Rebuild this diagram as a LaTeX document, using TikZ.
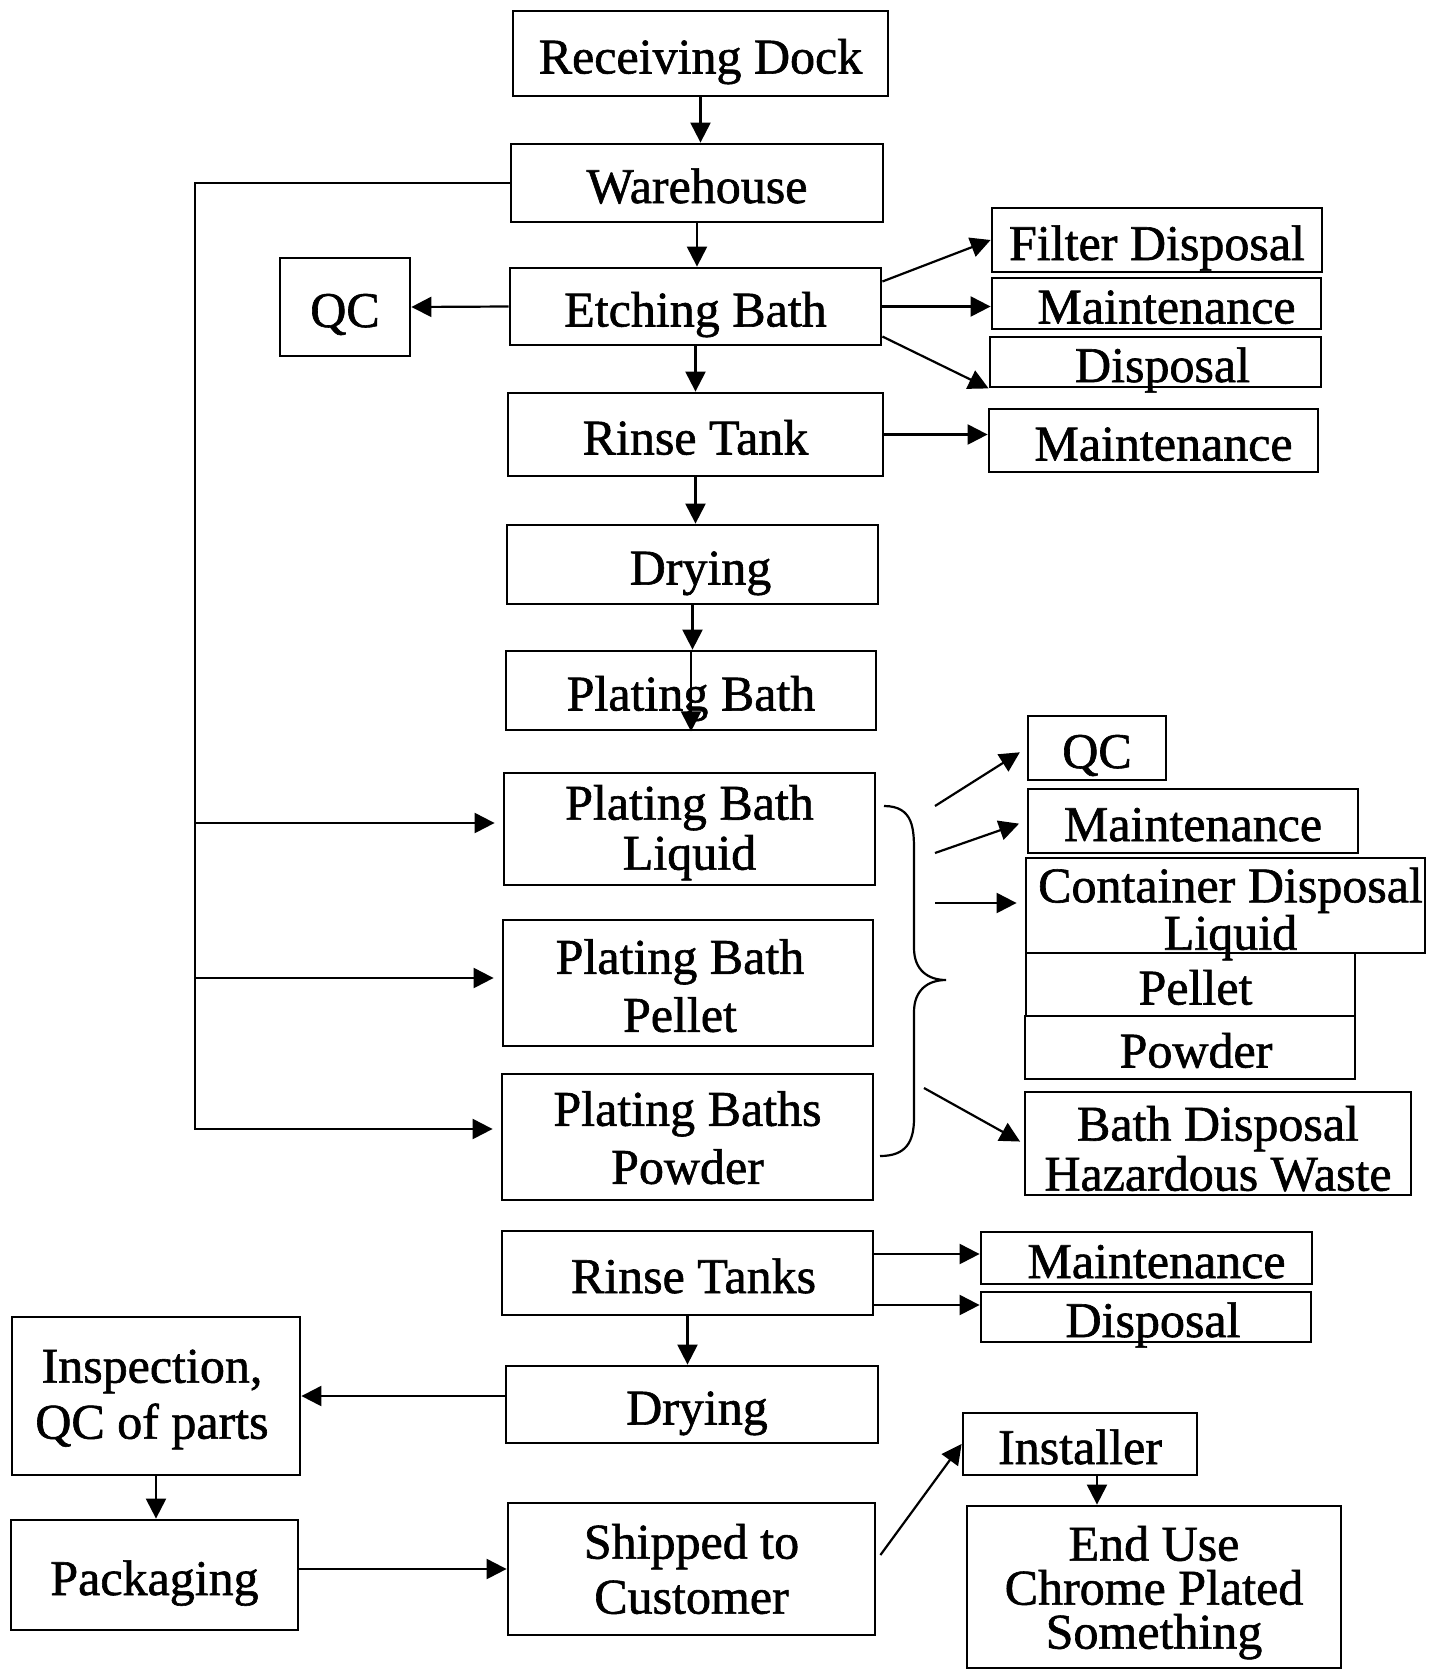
\documentclass[tikz,border=0pt]{standalone}
\usepackage{fontspec}
\setmainfont{Liberation Serif}[FakeBold=1.2]
\usetikzlibrary{arrows.meta,calc}
% invisible strut that sets the height of a first text line
\newcommand\firstlinestrut[1]{\rule{0pt}{#1}}

\begin{document}
\begin{tikzpicture}[x=0.5pt,y=-0.5pt,
  box/.style={draw, line width=1.4pt, inner sep=0pt, align=center,
    font=\fontsize{25}{28}\selectfont, text height=21pt, text depth=1pt},
  bx/.style 2 args={box, minimum width=#1*0.5pt, minimum height=#2*0.5pt},
  lskip/.style={font=\fontsize{25}{#1}\selectfont, text height={}, text depth={}},
  freetext/.style={inner sep=0pt, align=center},
  arr/.style={-{Triangle[length=10pt,width=10pt]}, line width=1.1pt},
  wire/.style={line width=1.1pt}
]
\fill[white] (0,0) rectangle (1442,1670);
\useasboundingbox (0,0) rectangle (1442,1670);

% main process column
\node[bx={375}{85}] (rd) at (700.5,53.5) {Receiving Dock};
\node[bx={372}{78}] (wh) at (697,183) {Warehouse};
\node[bx={130}{98}] (qc1) at (345,307) {QC};
\node[bx={371}{77}] (eb) at (695.5,306.5) {Etching Bath};
\node[bx={375}{83}] (rt) at (695.5,434.5) {Rinse Tank};
\node[bx={371}{79}] (dr1) at (692.5,564.5) {\hspace*{8pt}Drying};
\node[bx={370}{79}] (pb) at (691,690.5) {Plating Bath};
\node[bx={371}{112}, lskip=25] (pbl) at (689.5,829) {\firstlinestrut{21pt}Plating Bath\\Liquid};
\node[bx={370}{126}, lskip=29] (pbp) at (688,983) {\hspace*{-8pt}\firstlinestrut{20pt}Plating Bath\\\hspace*{-8pt}Pellet};
\node[bx={371}{126}, lskip=29] (pbw) at (687.5,1137) {\firstlinestrut{18pt}Plating Baths\\Powder};
\node[bx={371}{84}] (rt2) at (687.5,1273) {\hspace*{6pt}Rinse Tanks};
\node[bx={372}{77}] (dr2) at (692,1404.5) {\hspace*{5pt}Drying};

% etching / rinse side branches
\node[bx={330}{64}] (fd) at (1157,240) {Filter Disposal};
\node[bx={329}{51}] (m1) at (1156.5,303.5) {\hspace*{10pt}Maintenance};
\node[bx={331}{50}] (d1) at (1155.5,362) {\hspace*{7pt}Disposal};
\node[bx={329}{63}] (m2) at (1153.5,440.5) {\hspace*{10pt}Maintenance};

% plating bath outputs
\node[bx={138}{64}] (qc2) at (1097,748) {QC};
\node[bx={330}{64}] (m3) at (1193,821) {Maintenance};
\node[bx={399}{95}] (cd) at (1225.5,905.5) {};
\node[freetext, font=\fontsize{25}{22}\selectfont] (cdtext) at ($(cd.center)+(5,8.5)$) {Container Disposal\\Liquid};
\node[bx={329}{63}] (pel) at (1190.5,984.5) {\hspace*{5pt}Pellet};
\node[bx={330}{63}] (pow) at (1190,1047.5) {\hspace*{6pt}Powder};
\node[bx={386}{103}, lskip=25] (bd) at (1218,1143.5) {\firstlinestrut{22.5pt}Bath Disposal\\Hazardous Waste};

% rinse tanks outputs
\node[bx={331}{52}] (m4) at (1146.5,1258) {\hspace*{10pt}Maintenance};
\node[bx={330}{50}] (d4) at (1146,1317) {\hspace*{7pt}Disposal};

% finishing and delivery
\node[bx={288}{158}, lskip=28] (insp) at (156,1396) {\hspace*{-4pt}\firstlinestrut{20pt}Inspection,\\\hspace*{-4pt}QC of parts};
\node[bx={287}{110}] (pack) at (154.5,1575) {Packaging};
\node[bx={367}{132}, lskip=27.5] (ship) at (691.5,1569) {Shipped to\\Customer};
\node[bx={234}{62}] (inst) at (1080,1444) {Installer};
\node[bx={374}{162}, lskip=22] (enduse) at (1154,1587) {\firstlinestrut{23pt}End Use\\Chrome Plated\\Something};

% main flow
\draw[arr] (rd.south) -- (rd.south |- wh.north);
\draw[arr] (wh.south) -- (wh.south |- eb.north);
\draw[arr] (eb.west) -- (qc1.east);
\draw[arr] (eb.south) -- (eb.south |- rt.north);
\draw[arr] (rt.south) -- (rt.south |- dr1.north);
\draw[arr] (dr1.south) -- (dr1.south |- pb.north);
\draw[arr] (pb.north) -- (pb.south);

% etching bath and rinse tank branches
\draw[arr] ($(eb.east)+(0,-25)$) -- (fd.west);
\draw[arr] (eb.east) -- (eb.east -| m1.west);
\draw[arr] ($(eb.east)+(0,30)$) -- (d1.south west);
\draw[arr] (rt.east) -- (rt.east -| m2.west);

% warehouse feed to the three plating baths
\coordinate (fbt) at (195,183);
\coordinate (fbb) at (195,1129);
\draw[arr, shorten >=4pt] (wh.west) -- (fbt) -- (fbb) -- (fbb -| pbw.west);
\draw[arr, shorten >=4pt] ($(fbt |- pbl.west)+(0,-6)$) -- ($(pbl.west)+(0,-6)$);
\draw[arr, shorten >=4pt] ($(fbt |- pbp.west)+(0,-5)$) -- ($(pbp.west)+(0,-5)$);

% brace grouping the plating baths
\draw[wire] (884,806) .. controls (914,806) and (914,830) .. (914,852)
  -- (914,948) .. controls (914,970) and (928,980) .. (946,980)
  .. controls (928,980) and (914,990) .. (914,1012)
  -- (914,1118) .. controls (914,1142) and (906,1156) .. (880,1156);

\coordinate (s1) at (935,806);
\coordinate (s2) at (935,853);
\coordinate (s3) at (935,903);
\coordinate (s4) at (924,1088);
\draw[arr, shorten >=4pt] (s1) -- (qc2.west);
\draw[arr, shorten >=4pt] (s2) -- (m3.west);
\draw[arr, shorten >=4pt] (s3) -- (s3 -| cd.west);
\draw[arr, shorten >=2pt] (s4) -- (bd.west);

% rinse tanks onwards
\draw[arr] ($(rt2.east |- m4.west)+(0,-4)$) -- ($(m4.west)+(0,-4)$);
\draw[arr] ($(rt2.east |- d4.west)+(0,-12)$) -- ($(d4.west)+(0,-12)$);
\draw[arr] (rt2.south) -- (rt2.south |- dr2.north);
\draw[arr] (dr2.west |- insp.east) -- (insp.east);
\draw[arr] (insp.south) -- (insp.south |- pack.north);
\draw[arr] (pack.east |- ship.west) -- (ship.west);
\draw[arr] ($(ship.east)+(4,-14)$) -- (inst.west);
\coordinate (ie) at ($(inst.south)+(17,0)$);
\draw[arr] (ie) -- (ie |- enduse.north);
\end{tikzpicture}
\end{document}
